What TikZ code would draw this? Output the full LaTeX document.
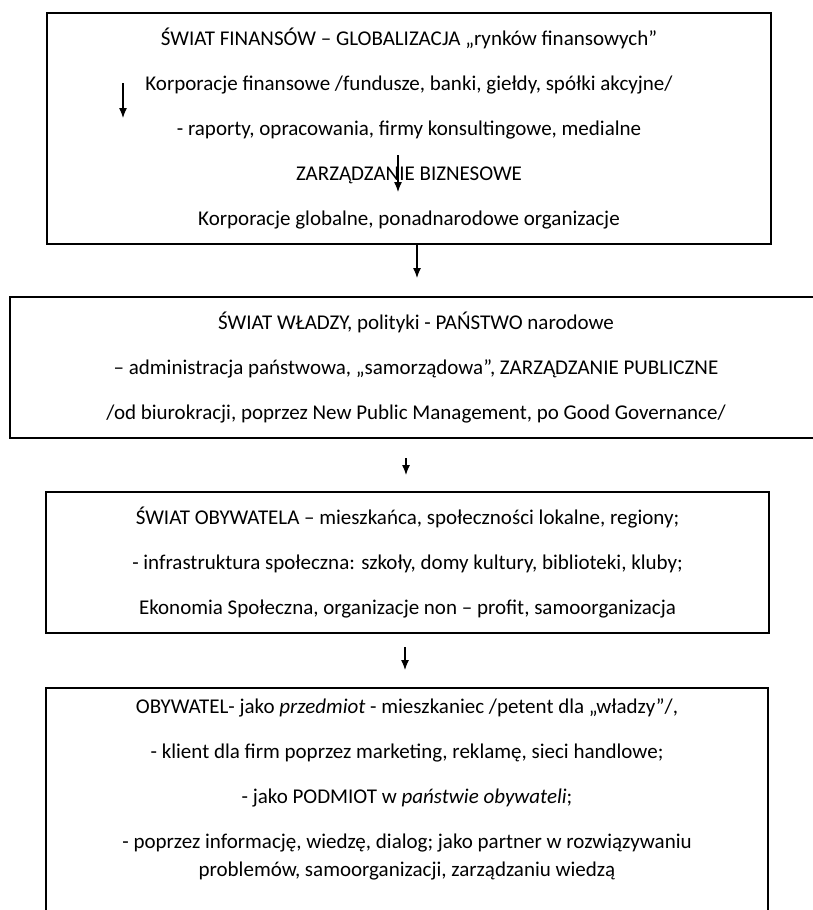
\documentclass[tikz,border=0pt]{standalone}
\usepackage{fontspec}
\setmainfont{Carlito}
\usetikzlibrary{arrows.meta}

\tikzset{
  box/.style={draw, line width=1.5pt, align=center, inner sep=0pt,
    font=\fontsize{21}{28}\selectfont},
}

\begin{document}
\begin{tikzpicture}[x=1pt, y=-1pt, >={Latex[length=10pt,width=8pt]}, line width=1.2pt]
  \useasboundingbox (0,0) rectangle (813,910);
  \node[box, minimum width=724pt, minimum height=231pt] (fin) at (409,128.5)
    {ŚWIAT FINANSÓW – GLOBALIZACJA „rynków finansowych”\\[17pt]
     Korporacje finansowe /fundusze, banki, giełdy, spółki akcyjne/\\[17pt]
     - raporty, opracowania, firmy konsultingowe, medialne\\[17pt]
     ZARZĄDZANIE BIZNESOWE\\[17pt]
     Korporacje globalne, ponadnarodowe organizacje};
  \node[box, minimum width=812pt, minimum height=141pt] (wla) at (416,367.5)
    {ŚWIAT WŁADZY, polityki - PAŃSTWO narodowe\\[17pt]
     – administracja państwowa, „samorządowa”, ZARZĄDZANIE PUBLICZNE\\[17pt]
     /od biurokracji, poprzez New Public Management, po Good Governance/};
  \node[box, minimum width=723pt, minimum height=141pt] (oby) at (407.5,562.5)
    {ŚWIAT OBYWATELA – mieszkańca, społeczności lokalne, regiony;\\[17pt]
     - infrastruktura społeczna: szkoły, domy kultury, biblioteki, kluby;\\[17pt]
     Ekonomia Społeczna, organizacje non – profit, samoorganizacja};
  \node[box, minimum width=722pt, anchor=north, inner ysep=11pt] (pod) at (407,687)
    {OBYWATEL- jako \textit{przedmiot} - mieszkaniec /petent dla „władzy”/,\\[17pt]
     - klient dla firm poprzez marketing, reklamę, sieci handlowe;\\[17pt]
     - jako PODMIOT w \textit{państwie obywateli};\\[17pt]
     - poprzez informację, wiedzę, dialog; jako partner w rozwiązywaniu\\
     problemów, samoorganizacji, zarządzaniu wiedzą\\[40pt]\mbox{}};
  % arrows
  \coordinate (k1) at (123,83);
  \coordinate (k2) at (123,118);
  \coordinate (z1) at (398,155);
  \coordinate (z2) at (398,192);
  \coordinate (a1) at (417,278);
  \coordinate (b1) at (406,458);
  \coordinate (b2) at (406,475);
  \coordinate (c1) at (405,647);
  \coordinate (c2) at (405,670);
  \draw[->] (k1) -- (k2);
  \draw[->] (z1) -- (z2);
  \draw[->] (fin.south -| a1) -- (a1);
  \draw[->] (b1) -- (b2);
  \draw[->] (c1) -- (c2);
\end{tikzpicture}
\end{document}
